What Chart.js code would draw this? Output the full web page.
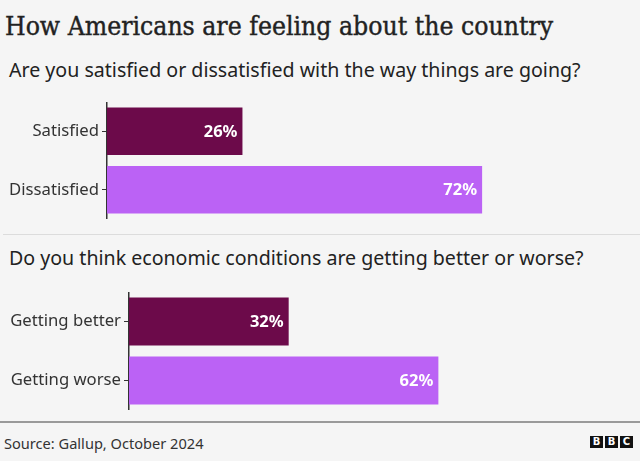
<!DOCTYPE html>
<html>
<head>
<meta charset="utf-8">
<script src="https://cdn.jsdelivr.net/npm/chart.js@4"></script>
<style>
  html, body { margin: 0; padding: 0; }
  body { width: 640px; height: 461px; background: #f5f5f5; position: relative; overflow: hidden; font-family: "Noto Sans", sans-serif; color: #222; }
  .title { position: absolute; left: 5px; top: 11px; font-family: "DejaVu Serif Condensed", "DejaVu Serif", serif; font-size: 26.3px; color: #222; -webkit-text-stroke: 0.4px #222; white-space: nowrap; }
  .sub { position: absolute; left: 9px; font-size: 19.6px; color: #222; white-space: nowrap; }
  .sep { position: absolute; left: 3px; right: 0; top: 234px; height: 1px; background: #dcdcdc; }
  .foot { position: absolute; left: 0; right: 0; top: 421px; height: 2px; background: #9a9a9a; }
  .source { position: absolute; left: 4px; top: 433px; font-size: 14.6px; color: #333; }
  .logo { position: absolute; left: 590px; top: 436px; display: flex; gap: 2px; }
  .logo span { width: 13px; height: 12px; background: #111; color: #fff; font: bold 10px "DejaVu Sans", sans-serif; line-height: 12px; text-align: center; }
  .box { position: absolute; left: 0; width: 640px; }
</style>
</head>
<body>
<div class="title">How Americans are feeling about the country</div>
<div class="sub" style="top:56px">Are you satisfied or dissatisfied with the way things are going?</div>
<div class="box" style="top:102px;height:117px"><canvas id="chart1"></canvas></div>
<div class="sep"></div>
<div class="sub" style="top:244px">Do you think economic conditions are getting better or worse?</div>
<div class="box" style="top:292px;height:118px"><canvas id="chart2"></canvas></div>
<div class="foot"></div>
<div class="source">Source: Gallup, October 2024</div>
<div class="logo"><span>B</span><span>B</span><span>C</span></div>

<script>
const satisfactionLabels = ['Satisfied', 'Dissatisfied'];
const satisfactionValues = [26, 72];
const economyLabels = ['Getting better', 'Getting worse'];
const economyValues = [32, 62];
const barColours = ['#6c0a4a', '#bb62f5'];

// draws the white % figure inside the end of each bar
const valueLabels = {
  id: 'valueLabels',
  afterDatasetsDraw(chart) {
    const ctx = chart.ctx;
    const values = chart.data.datasets[0].data;
    ctx.save();
    ctx.font = 'bold 16.5px "Noto Sans", sans-serif';
    ctx.fillStyle = '#ffffff';
    ctx.textAlign = 'right';
    ctx.textBaseline = 'middle';
    chart.getDatasetMeta(0).data.forEach((bar, i) => {
      ctx.fillText(values[i] + '%', bar.x - 5, bar.y + 1);
    });
    ctx.restore();
  }
};

const makeChart = (id, labels, values, axisWidth) => {
  new Chart(document.getElementById(id), {
    type: 'bar',
    data: {
      labels,
      datasets: [{
        data: values,
        backgroundColor: barColours,
        barPercentage: 0.81,
        categoryPercentage: 1,
      }],
    },
    options: {
      indexAxis: 'y',
      responsive: true,
      maintainAspectRatio: false,
      animation: false,
      layout: { padding: { left: 0, right: 12, top: 0, bottom: 0 } },
      plugins: { legend: { display: false }, tooltip: { enabled: false } },
      scales: {
        x: { min: 0, max: 100, display: false },
        y: {
          afterFit: (scale) => {
            scale.width = axisWidth;
            scale.paddingTop = 0;
            scale.paddingBottom = 0;
          },
          border: { display: true, color: '#333', width: 1.5 },
          grid: { offset: false, drawOnChartArea: false, drawTicks: true, tickLength: 5, color: '#333' },
          ticks: { color: '#333', padding: 3, font: { family: 'Noto Sans', size: 16.7 } },
        },
      },
    },
    plugins: [valueLabels],
  });
};

makeChart('chart1', satisfactionLabels, satisfactionValues, 107);
makeChart('chart2', economyLabels, economyValues, 129);
</script>
</body>
</html>
